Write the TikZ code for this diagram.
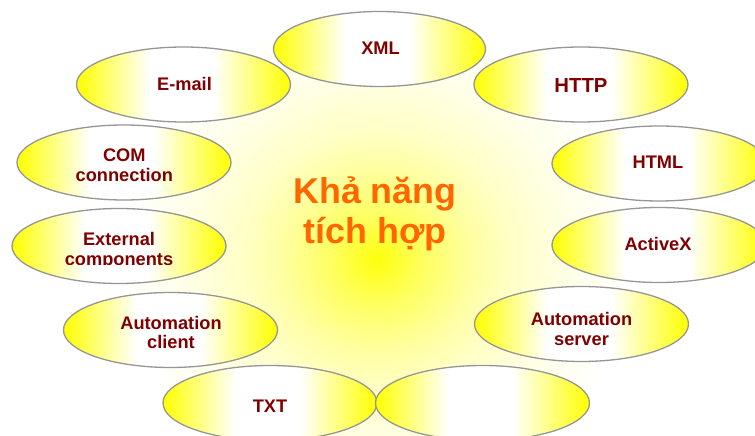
\documentclass[tikz,border=0pt]{standalone}
\usepackage{fontspec}
\setmainfont{Liberation Sans}
\usetikzlibrary{shapes.geometric}

\definecolor{labelred}{RGB}{128,0,0}
\definecolor{titleorange}{RGB}{255,102,0}
\definecolor{rimgray}{RGB}{150,150,150}

% soft yellow glow behind the centre
\pgfdeclareradialshading{glow}{\pgfpoint{0bp}{0bp}}{%
  color(0bp)=(yellow!95!white);
  color(4bp)=(yellow!62!white);
  color(8.3bp)=(yellow!36!white);
  color(11.7bp)=(yellow!22!white);
  color(16.7bp)=(yellow!9!white);
  color(22bp)=(white);
  color(50bp)=(white)}

% yellow at both sides, white across the middle
\pgfdeclarehorizontalshading{pill}{100bp}{%
  color(0bp)=(yellow);
  color(25bp)=(yellow);
  color(42bp)=(white);
  color(57bp)=(white);
  color(75bp)=(yellow);
  color(100bp)=(yellow)}

% fixed first-line heights, so a node's top sits a known distance above its first baseline
\newcommand\lblstrut{\rule{0pt}{16bp}}
\newcommand\titlestrut{\rule{0pt}{34bp}}

\tikzset{
  bubble/.style={ellipse, draw=rimgray, line width=1.3bp, shading=pill,
    minimum width=214bp, minimum height=75bp, inner sep=0pt},
  lbl/.style={anchor=north, inner sep=0pt, align=center, text=labelred,
    font=\bfseries\fontsize{18.3}{20}\selectfont},
  title/.style={anchor=north, inner sep=0pt, align=center, text=titleorange,
    font=\bfseries\fontsize{36}{40}\selectfont}
}

\begin{document}
\lineskiplimit=-50bp\relax
\begin{tikzpicture}[x=1bp, y=-1bp]
  \useasboundingbox (0,0) rectangle (755,436);
  \fill[white] (0,0) rectangle (755,436);

  % background glow
  \shade[shading=glow] (377,260) ellipse [x radius=290bp, y radius=280bp];

  % bubbles
  \node[bubble, minimum width=212bp] (xml) at (379.5,49) {};
  \node[bubble] (email)   at (183.5,84.5) {};
  \node[bubble] (http)    at (581,84.5) {};
  \node[bubble] (com)     at (124,162.5) {};
  \node[bubble] (html)    at (659,163.5) {};
  \node[bubble] (ext)     at (119,246) {};
  \node[bubble] (activex) at (659,245) {};
  \node[bubble] (client)  at (170.5,330) {};
  \node[bubble] (server)  at (581.5,324) {};
  \node[bubble] (txt)     at (270,403) {};
  \node[bubble] (blank)   at (482.5,403) {};

  % bubble labels
  \node[lbl] (xmltext)     at (380.5,38) {\lblstrut XML};
  \node[lbl] (emailtext)   at (184.5,74) {\lblstrut E-mail};
  \node[lbl, font=\bfseries\fontsize{20.4}{22}\selectfont] (httptext) at (581,76) {\lblstrut HTTP};
  \node[lbl] (htmltext)    at (658,152) {\lblstrut HTML};
  \node[lbl] (activextext) at (658,234) {\lblstrut ActiveX};
  \node[lbl] (txttext)     at (270,396) {\lblstrut TXT};
  \begin{scope}
    \clip (0,100) rectangle (300,182);
    \node[lbl] (comtext) at (124.3,145.7) {\lblstrut COM\\connection};
  \end{scope}
  \begin{scope}
    \clip (0,200) rectangle (300,264.5);
    \node[lbl] (exttext) at (119,229) {\lblstrut External\\components};
  \end{scope}
  \node[lbl, font=\bfseries\fontsize{18.3}{19}\selectfont] (clienttext) at (171,313.3) {\lblstrut Automation\\client};
  \node[lbl] (servertext)  at (581.5,309) {\lblstrut Automation\\server};

  % centre title
  \node[title] (centre) at (375,169) {\titlestrut Khả năng\\tích hợp};
\end{tikzpicture}
\end{document}
